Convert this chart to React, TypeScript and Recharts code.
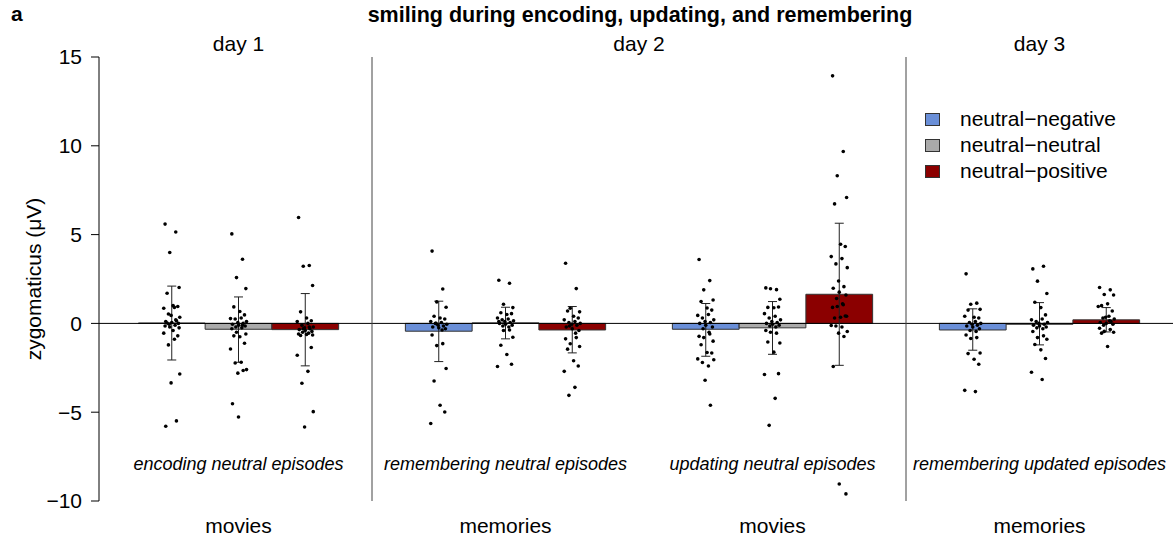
import React from "react";
import {
  ComposedChart,
  XAxis,
  YAxis,
  Scatter,
  ErrorBar,
  ReferenceArea,
  ReferenceLine,
  ReferenceDot,
  Legend,
} from "recharts";

const FONT = '"Liberation Sans", Arial, Helvetica, sans-serif';

const CONDITIONS = ["movies", "memories", "movies", "memories"];
const EPISODES = [
  "encoding neutral episodes",
  "remembering neutral episodes",
  "updating neutral episodes",
  "remembering updated episodes",
];
const DAYS = ["day 1", "day 2", "day 3"];
const DAY_CONDITIONS = [[0], [1, 2], [3]];
const SERIES = ["neutral−negative", "neutral−neutral", "neutral−positive"];
const COLORS = ["#6a8fd8", "#aaaaaa", "#8b0000"];
const Y_TICKS = [-10, -5, 0, 5, 10, 15];

// bar heights (mean) per condition
const NEG_MEAN = [0.02, -0.44, -0.33, -0.37];
const NEU_MEAN = [-0.33, 0.03, -0.25, -0.05];
const POS_MEAN = [-0.35, -0.37, 1.64, 0.2];

// error bar ends
const NEG_LOW = [-2.06, -2.15, -1.85, -1.51];
const NEG_HIGH = [2.1, 1.25, 1.12, 0.82];
const NEU_LOW = [-2.19, -0.87, -1.74, -1.21];
const NEU_HIGH = [1.49, 0.91, 1.23, 1.17];
const POS_LOW = [-2.39, -1.66, -2.36, -0.48];
const POS_HIGH = [1.68, 0.95, 5.64, 0.89];

// individual participants
const NEG_POINTS = [
  [5.59, 5.15, 3.99, 2.02, 1.7, 1.0, 0.95, 0.85, 0.9, 0.53, 0.35, 0.45, 0.15, 0.1, 0.05, 0.0, -0.05, -0.1, -0.15, 0.2, -0.2, -0.25, 0.02, -0.4, -0.7, -0.55, -0.89, -1.21, -2.85, -3.35, -5.49, -5.79],
  [4.07, 1.94, 1.21, 0.91, 0.4, 0.3, 0.25, 0.1, 0.05, 0.0, -0.05, -0.1, -0.15, -0.2, -0.25, -0.3, 0.0, -0.37, -0.65, -1.14, -1.25, -2.54, -3.24, -4.61, -4.99, -5.64],
  [3.6, 2.41, 1.89, 1.32, 1.23, 0.87, 0.75, 0.45, 0.5, 0.3, 0.2, 0.1, 0.05, 0.0, -0.1, -0.2, -0.3, -0.5, -0.73, -0.6, -0.8, -1.0, -1.2, -1.64, -1.67, -2.0, -2.4, -2.2, -2.05, -3.2, -4.61],
  [2.79, 1.14, 1.08, 0.79, 0.75, 0.35, 0.3, 0.4, 0.1, 0.05, 0.0, -0.05, -0.1, -0.15, -0.2, -0.3, -0.4, -0.45, -0.65, -0.8, -0.85, -1.67, -1.7, -2.02, -2.3, -3.77, -3.84],
];
const NEU_POINTS = [
  [5.04, 3.61, 2.58, 1.96, 0.93, 0.67, 0.48, 0.27, 0.3, 0.25, 0.1, 0.05, 0.0, -0.05, -0.1, -0.15, -0.2, -0.25, -0.3, -0.1, -0.5, -0.6, -0.7, -0.75, -1.12, -1.44, -2.19, -2.23, -2.6, -2.8, -2.65, -4.52, -5.27],
  [2.43, 2.26, 1.08, 0.89, 0.6, 0.5, 0.55, 0.3, 0.25, 0.2, 0.15, 0.1, 0.05, 0.0, -0.05, -0.1, -0.15, -0.2, 0.1, -0.37, -0.4, -0.78, -1.23, -1.75, -2.3, -2.43],
  [2.0, 1.9, 1.95, 1.36, 0.9, 0.88, 0.92, 0.55, 0.4, 0.3, 0.2, 0.1, 0.05, 0.0, -0.05, -0.1, -0.15, -0.2, -0.4, -0.55, -0.5, -1.1, -1.05, -1.62, -2.83, -2.88, -4.22, -5.74],
  [3.07, 3.22, 2.38, 1.68, 1.19, 0.89, 0.48, 0.2, 0.25, 0.1, 0.05, 0.0, -0.05, -0.1, -0.15, -0.2, -0.25, -0.3, -0.46, -0.7, -0.8, -0.89, -1.19, -1.49, -1.98, -2.75, -3.16],
];
const POS_POINTS = [
  [5.96, 3.26, 3.22, 2.13, 0.65, 0.3, 0.15, 0.1, 0.0, -0.1, -0.2, -0.25, -0.3, -0.35, -0.4, -0.45, -0.5, -0.55, -0.6, -0.2, -0.3, -0.65, -0.68, -0.62, -1.36, -1.79, -2.7, -3.37, -4.97, -5.83],
  [3.39, 1.96, 0.85, 0.65, 0.7, 0.4, 0.3, 0.2, 0.1, 0.05, 0.0, -0.05, -0.1, -0.2, -0.3, -0.4, -0.15, -0.55, -0.87, -0.8, -1.15, -1.3, -1.45, -2.1, -2.4, -2.7, -3.6, -4.05],
  [13.94, 9.68, 8.31, 7.09, 6.73, 4.46, 4.33, 3.76, 3.65, 3.35, 3.14, 2.39, 2.07, 1.98, 1.76, 1.6, 1.4, 1.1, 0.9, 1.05, 0.95, 0.4, 0.3, 0.35, 0.42, -0.12, -0.2, -0.15, -0.46, -0.55, -0.74, -2.43, -9.04, -9.6],
  [2.02, 1.89, 1.63, 1.6, 1.0, 1.1, 0.7, 0.95, 0.4, 0.3, 0.25, 0.35, 0.1, 0.05, 0.0, -0.05, -0.1, 0.15, -0.27, -0.35, -0.45, -0.5, -0.55, -1.3],
];

// horizontal jitter pattern (in bar widths) for the dots
const JITTER = [-0.1, 0.06, -0.03, 0.11, -0.07, 0.02, 0.09, -0.12, 0.04, -0.05, 0.12, -0.01, 0.07, -0.09, 0.0, 0.1, -0.04, 0.05];

const MEANS = [NEG_MEAN, NEU_MEAN, POS_MEAN];
const LOWS = [NEG_LOW, NEU_LOW, POS_LOW];
const HIGHS = [NEG_HIGH, NEU_HIGH, POS_HIGH];
const POINTS = [NEG_POINTS, NEU_POINTS, POS_POINTS];

const slot = (c: number, s: number) => c * 4 + s + 1;
const condCenter = (c: number) => c * 4 + 2;
const dayCenter = (cs: number[]) => (cs[0] * 4 + cs[cs.length - 1] * 4 + 4) / 2;
const minus = (v: number) => (v < 0 ? "−" + Math.abs(v) : String(v));

const dotData = POINTS.map((perCond, s) =>
  perCond.flatMap((vals, c) => vals.map((v, i) => ({ x: slot(c, s) + JITTER[i % JITTER.length], y: v })))
);
const errData = MEANS.map((m, s) =>
  m.map((v, c) => ({ x: slot(c, s), y: v, err: [v - LOWS[s][c], HIGHS[s][c] - v] }))
);

const tickStyle = { fill: "#000", fontSize: 21, fontFamily: FONT };

function LegendBox() {
  return (
    <div style={{ fontFamily: FONT, fontSize: 21, color: "#000" }}>
      {SERIES.map((name, i) => (
        <div key={name} style={{ display: "flex", alignItems: "center", height: 26 }}>
          <span
            style={{
              display: "inline-block",
              width: 13,
              height: 11,
              background: COLORS[i],
              border: "1px solid #333",
              marginRight: 20,
            }}
          />
          <span>{name}</span>
        </div>
      ))}
    </div>
  );
}

export default function App() {
  const condTicks = CONDITIONS.map((_, c) => condCenter(c));
  return (
    <div style={{ position: "absolute", left: 0, top: 0, width: 1173, height: 541, background: "#fff", fontFamily: FONT }}>
      <div style={{ position: "absolute", left: 11, top: 3, fontSize: 21, fontWeight: "bold", lineHeight: "21px" }}>a</div>
      <div
        style={{
          position: "absolute",
          left: 640,
          top: 5,
          transform: "translateX(-50%)",
          whiteSpace: "nowrap",
          fontSize: 21.5,
          fontWeight: "bold",
          lineHeight: "21px",
        }}
      >
        smiling during encoding, updating, and remembering
      </div>
      <ComposedChart width={1173} height={541} margin={{ top: 57, right: 0, bottom: 0, left: 0 }}>
        <XAxis
          xAxisId="main"
          type="number"
          dataKey="x"
          domain={[-0.09, 16]}
          allowDataOverflow
          ticks={condTicks}
          tickFormatter={(v: number) => CONDITIONS[condTicks.indexOf(v)] ?? ""}
          axisLine={false}
          tickLine={false}
          tickSize={0}
          tickMargin={17}
          height={40}
          tick={tickStyle}
          interval={0}
        />
        <YAxis
          type="number"
          domain={[-10, 15]}
          allowDataOverflow
          ticks={Y_TICKS}
          tickFormatter={minus}
          width={99}
          tickSize={8}
          tickMargin={9}
          tick={tickStyle}
          axisLine={{ stroke: "#000" }}
          tickLine={{ stroke: "#000" }}
          interval={0}
          label={{
            content: () => (
              <text
                transform="translate(33.5,279) rotate(-90)"
                textAnchor="middle"
                dominantBaseline="central"
                fontSize={21}
                fontFamily={FONT}
                fill="#000"
              >
                zygomaticus (μV)
              </text>
            ),
          }}
        />
        {MEANS.map((m, s) =>
          m.map((v, c) => (
            <ReferenceArea
              key={`bar-${s}-${c}`}
              xAxisId="main"
              x1={slot(c, s) - 0.5}
              x2={slot(c, s) + 0.5}
              y1={Math.min(0, v)}
              y2={Math.max(0, v)}
              fill={COLORS[s]}
              fillOpacity={1}
              stroke="#333"
              strokeWidth={1}
            />
          ))
        )}
        <ReferenceLine xAxisId="main" y={0} stroke="#000" strokeWidth={1} />
        {DAY_CONDITIONS.slice(1).map((cs) => (
          <ReferenceLine key={`sep-${cs[0]}`} xAxisId="main" x={cs[0] * 4} stroke="#444" strokeWidth={1} />
        ))}
        {DAYS.map((day, d) => (
          <ReferenceDot
            key={`day-${d}`}
            xAxisId="main"
            x={dayCenter(DAY_CONDITIONS[d])}
            y={15}
            r={0}
            fill="none"
            stroke="none"
            label={{ value: day, position: "top", offset: 6, fontSize: 21, fill: "#000", fontFamily: FONT }}
          />
        ))}
        {EPISODES.map((label, c) => (
          <ReferenceDot
            key={`ep-${c}`}
            xAxisId="main"
            x={condCenter(c)}
            y={-7.9}
            r={0}
            fill="none"
            stroke="none"
            label={{ value: label, position: "center", fontSize: 18, fontStyle: "italic", fill: "#000", fontFamily: FONT }}
          />
        ))}
        {errData.map((d, s) => (
          <Scatter
            key={`err-${s}`}
            xAxisId="main"
            data={d}
            dataKey="y"
            isAnimationActive={false}
            legendType="none"
            shape={() => <g />}
          >
            <ErrorBar dataKey="err" direction="y" width={4.5} stroke="#222" strokeWidth={1} />
          </Scatter>
        ))}
        {dotData.map((d, s) => (
          <Scatter
            key={`dots-${s}`}
            name={SERIES[s]}
            xAxisId="main"
            data={d}
            dataKey="y"
            isAnimationActive={false}
            shape={(p: any) => <circle cx={p.cx} cy={p.cy} r={1.8} fill="#000" />}
          />
        ))}
        <Legend
          layout="horizontal"
          verticalAlign="middle"
          align="center"
          content={() => <LegendBox />}
          wrapperStyle={{ left: 925, top: 106, width: 240, height: 80 }}
        />
      </ComposedChart>
    </div>
  );
}
